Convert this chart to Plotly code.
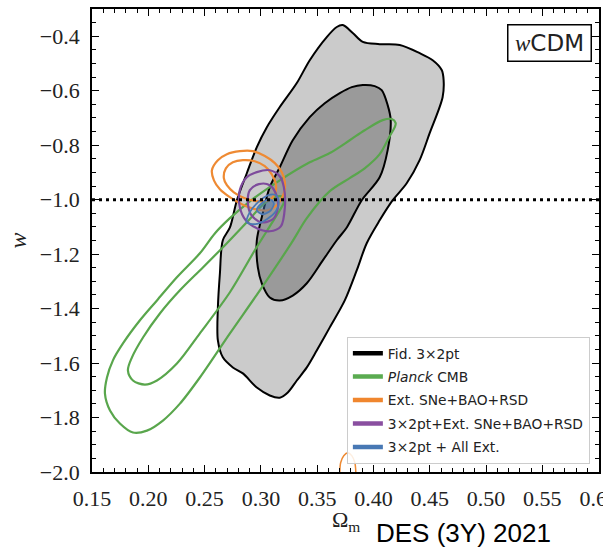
import plotly.graph_objects as go

# ---------------- contour data (Omega_m, w) ----------------
# Fiducial 3x2pt, 95% and 68% regions
fid95_om = [0.3727, 0.3816, 0.3905, 0.4055, 0.4233, 0.4410, 0.4526, 0.4606, 0.4623, 0.4614,
            0.4499, 0.4410, 0.4295, 0.4171, 0.4055, 0.3940, 0.3851, 0.3745, 0.3612, 0.3496,
            0.3408, 0.3319, 0.3239, 0.3168, 0.3079, 0.2964, 0.2840, 0.2751, 0.2662, 0.2618,
            0.2618, 0.2636, 0.2662, 0.2725, 0.2787, 0.2875, 0.2964, 0.3053, 0.3168, 0.3319,
            0.3434, 0.3585, 0.3674]
fid95_w = [-0.359, -0.388, -0.421, -0.429, -0.432, -0.462, -0.488, -0.524, -0.561, -0.624,
           -0.756, -0.855, -0.940, -1.002, -1.076, -1.160, -1.260, -1.370, -1.469, -1.554,
           -1.616, -1.664, -1.708, -1.727, -1.719, -1.690, -1.638, -1.616, -1.579, -1.517,
           -1.396, -1.271, -1.149, -1.102, -1.002, -0.903, -0.807, -0.734, -0.660, -0.572,
           -0.488, -0.403, -0.366]

fid68_om = [0.3905, 0.4011, 0.4073, 0.4126, 0.4153, 0.4126, 0.4055, 0.3896, 0.3763, 0.3674,
            0.3550, 0.3408, 0.3283, 0.3168, 0.3079, 0.3008, 0.2973, 0.2964, 0.3008, 0.3079,
            0.3168, 0.3283, 0.3434, 0.3567, 0.3701, 0.3807]
fid68_w = [-0.579, -0.583, -0.598, -0.653, -0.708, -0.818, -0.918, -1.002, -1.102, -1.149,
           -1.223, -1.307, -1.352, -1.370, -1.359, -1.307, -1.249, -1.149, -1.065, -0.954,
           -0.881, -0.782, -0.697, -0.646, -0.609, -0.587]

# Planck CMB
planck95_om = [0.4197, 0.4162, 0.4082, 0.3922, 0.3789, 0.3612, 0.3434, 0.3168, 0.2902, 0.2725,
               0.2591, 0.2458, 0.2254, 0.2077, 0.1926, 0.1775, 0.1686, 0.1633, 0.1615, 0.1660,
               0.1748, 0.1864, 0.1988, 0.2130, 0.2281, 0.2458, 0.2725, 0.2991, 0.3275, 0.3408,
               0.3612, 0.3789, 0.3922, 0.4055, 0.4144, 0.4189]
planck95_w = [-0.719, -0.704, -0.708, -0.745, -0.782, -0.829, -0.863, -0.929, -1.006, -1.068,
              -1.124, -1.197, -1.285, -1.370, -1.443, -1.528, -1.590, -1.653, -1.712, -1.774,
              -1.822, -1.855, -1.848, -1.811, -1.749, -1.653, -1.491, -1.333, -1.157, -1.068,
              -0.969, -0.921, -0.885, -0.833, -0.767, -0.734]

planck68_om = [0.3195, 0.3150, 0.3035, 0.2875, 0.2698, 0.2485, 0.2281, 0.2103, 0.1953, 0.1855,
               0.1819, 0.1864, 0.1970, 0.2077, 0.2254, 0.2458, 0.2725, 0.2946, 0.3079, 0.3168,
               0.3204]
planck68_w = [-0.991, -0.988, -1.013, -1.083, -1.160, -1.249, -1.333, -1.418, -1.506, -1.579,
              -1.627, -1.664, -1.679, -1.664, -1.602, -1.491, -1.340, -1.186, -1.098, -1.039,
              -1.010]

# Ext. SNe+BAO+RSD
ext95_om = [0.2565, 0.2618, 0.2698, 0.2813, 0.2929, 0.3035, 0.3124, 0.3186, 0.3213, 0.3204,
            0.3150, 0.3062, 0.2946, 0.2831, 0.2724, 0.2636, 0.2583]
ext95_w = [-0.892, -0.855, -0.833, -0.822, -0.822, -0.840, -0.866, -0.899, -0.936, -0.977,
           -1.017, -1.039, -1.035, -1.017, -0.991, -0.962, -0.929]

ext68_om = [0.2671, 0.2689, 0.2751, 0.2840, 0.2946, 0.3035, 0.3097, 0.3133, 0.3124, 0.3071,
            0.2973, 0.2858, 0.2760, 0.2698]
ext68_w = [-0.921, -0.885, -0.863, -0.855, -0.859, -0.877, -0.907, -0.943, -0.980, -1.002,
           -1.006, -0.995, -0.973, -0.947]

# isolated piece of the Ext. 95% region near the lower edge
ext95b_om = [0.3701, 0.3709, 0.3736, 0.3772, 0.3807, 0.3834, 0.3843]
ext95b_w = [-2.000, -1.965, -1.940, -1.929, -1.940, -1.965, -2.000]

# 3x2pt + Ext. SNe+BAO+RSD
comb95_om = [0.2875, 0.2964, 0.3079, 0.3168, 0.3204, 0.3213, 0.3177, 0.3079, 0.2964, 0.2866,
             0.2813, 0.2813]
comb95_w = [-0.918, -0.899, -0.892, -0.914, -0.954, -1.028, -1.098, -1.116, -1.105, -1.076,
            -1.028, -0.965]

comb68_om = [0.2902, 0.2982, 0.3079, 0.3142, 0.3150, 0.3106, 0.2999, 0.2911, 0.2884]
comb68_w = [-0.965, -0.943, -0.947, -0.988, -1.032, -1.072, -1.083, -1.054, -1.006]

# 3x2pt + All Ext.
all95_om = [0.2875, 0.2902, 0.2973, 0.3062, 0.3133, 0.3159, 0.3133, 0.3053, 0.2955]
all95_w = [-1.083, -1.046, -1.010, -0.984, -0.984, -1.010, -1.043, -1.072, -1.090]

all68_om = [0.2964, 0.3008, 0.3079, 0.3115, 0.3088, 0.3017]
all68_w = [-1.039, -1.013, -0.999, -1.013, -1.039, -1.054]

# axis ticks
x_ticks = [0.15, 0.20, 0.25, 0.30, 0.35, 0.40, 0.45, 0.50, 0.55, 0.60]
y_ticks = [-2.0, -1.8, -1.6, -1.4, -1.2, -1.0, -0.8, -0.6, -0.4]

legend_names = ["Fid. 3\u00d72pt", "<i>Planck</i> CMB", "Ext. SNe+BAO+RSD",
                "3\u00d72pt+Ext. SNe+BAO+RSD", "3\u00d72pt + All Ext."]
legend_colors = ["#000000", "#5aab50", "#f0862e", "#8a4fa0", "#4878b4"]

GREEN = "#59a64c"
ORANGE = "#ee8a33"
PURPLE = "#7e4b9c"
BLUE = "#4a78b3"


def closed(xs, ys):
    return xs + xs[:1], ys + ys[:1]


fig = go.Figure()


def region(xs, ys, color, width=2.0, fill=None):
    cx, cy = closed(xs, ys)
    fig.add_trace(go.Scatter(
        x=cx, y=cy, mode="lines",
        line=dict(color=color, width=width, shape="spline", smoothing=0.9),
        fill="toself" if fill else None,
        fillcolor=fill,
        showlegend=False, hoverinfo="skip"))


region(fid95_om, fid95_w, "black", 2.0, "#cbcbcb")
region(fid68_om, fid68_w, "black", 2.0, "#9a9a9a")
region(planck95_om, planck95_w, GREEN, 2.2)
region(planck68_om, planck68_w, GREEN, 2.2)
region(ext95_om, ext95_w, ORANGE, 2.2)
region(ext68_om, ext68_w, ORANGE, 2.2)
fig.add_trace(go.Scatter(x=ext95b_om, y=ext95b_w, mode="lines",
                         line=dict(color=ORANGE, width=1.5, shape="spline"),
                         showlegend=False, hoverinfo="skip"))
region(comb95_om, comb95_w, PURPLE, 2.2)
region(comb68_om, comb68_w, PURPLE, 2.2)
region(all95_om, all95_w, BLUE, 1.8)
region(all68_om, all68_w, BLUE, 1.8, "rgba(74,120,179,0.45)")

# legend entries
for i, (name, col) in enumerate(zip(legend_names, legend_colors)):
    fig.add_trace(go.Scatter(x=[None], y=[None], mode="lines", name=name,
                             legendgroup=f"g{i}",
                             line=dict(color=col, width=4.5)))

# w = -1 reference line
fig.add_hline(y=-1.0, line=dict(color="black", width=3, dash="3px,4px"))

tickfont = dict(family="Liberation Serif", size=22, color="#222222")

fig.update_xaxes(
    range=[0.15, 0.6003], tickmode="array", tickvals=x_ticks,
    ticktext=[f"{v:.2f}" for v in x_ticks],
    ticks="inside", ticklen=7, tickwidth=1.3, tickcolor="black",
    minor=dict(ticks="inside", dtick=0.01, ticklen=4, tickwidth=1, tickcolor="black"),
    mirror="allticks", showline=True, linewidth=1.8, linecolor="black",
    showgrid=False, zeroline=False, tickfont=tickfont, automargin=False,
    ticklabelstandoff=6, ticklabeloverflow="allow")
fig.update_yaxes(
    range=[-2.0, -0.3], tickmode="array", tickvals=y_ticks,
    ticktext=[f"\u2212{abs(v):.1f}" for v in y_ticks],
    ticks="inside", ticklen=7, tickwidth=1.3, tickcolor="black",
    minor=dict(ticks="inside", dtick=0.05, ticklen=4, tickwidth=1, tickcolor="black"),
    mirror="allticks", showline=True, linewidth=1.8, linecolor="black",
    showgrid=False, zeroline=False, tickfont=tickfont, automargin=False,
    ticklabelstandoff=6, ticklabeloverflow="allow")

fig.add_annotation(text="<i>w</i>", xref="paper", yref="paper", x=-0.146, y=0.50,
                   xanchor="center", yanchor="middle",
                   textangle=-90, showarrow=False,
                   font=dict(family="Liberation Serif", size=24, color="#222222"))
fig.add_annotation(text="\u03a9<sub>m</sub>", xref="paper", yref="paper", x=0.5, y=-0.106,
                   xanchor="center", yanchor="middle", showarrow=False,
                   font=dict(family="Liberation Serif", size=22, color="#222222"))
fig.add_annotation(text='<span style="font-family:Liberation Serif"><i>w</i></span>CDM',
                   xref="paper", yref="paper", x=0.902, y=0.927, xanchor="center",
                   yanchor="middle", showarrow=False, width=80, height=33, borderpad=1,
                   bordercolor="black", borderwidth=1.5, bgcolor="white",
                   font=dict(family="DejaVu Sans", size=23, color="#222222"))
fig.add_annotation(text="DES (3Y) 2021", xref="paper", yref="paper", x=0.732, y=-0.132,
                   xanchor="center", yanchor="middle", showarrow=False,
                   font=dict(family="Liberation Sans", size=26, color="black"))

fig.update_layout(
    template="none",
    width=603, height=547,
    margin=dict(l=92, r=4, t=9, b=75),
    paper_bgcolor="white", plot_bgcolor="white",
    showlegend=True,
    legend=dict(x=0.982, xanchor="right", y=0.018, yanchor="bottom",
                bgcolor="rgba(255,255,255,0.85)", bordercolor="#cccccc", borderwidth=1,
                font=dict(family="DejaVu Sans", size=13.8, color="#222222"),
                tracegroupgap=2.5, itemwidth=30),
)

fig.write_html("out.html")
